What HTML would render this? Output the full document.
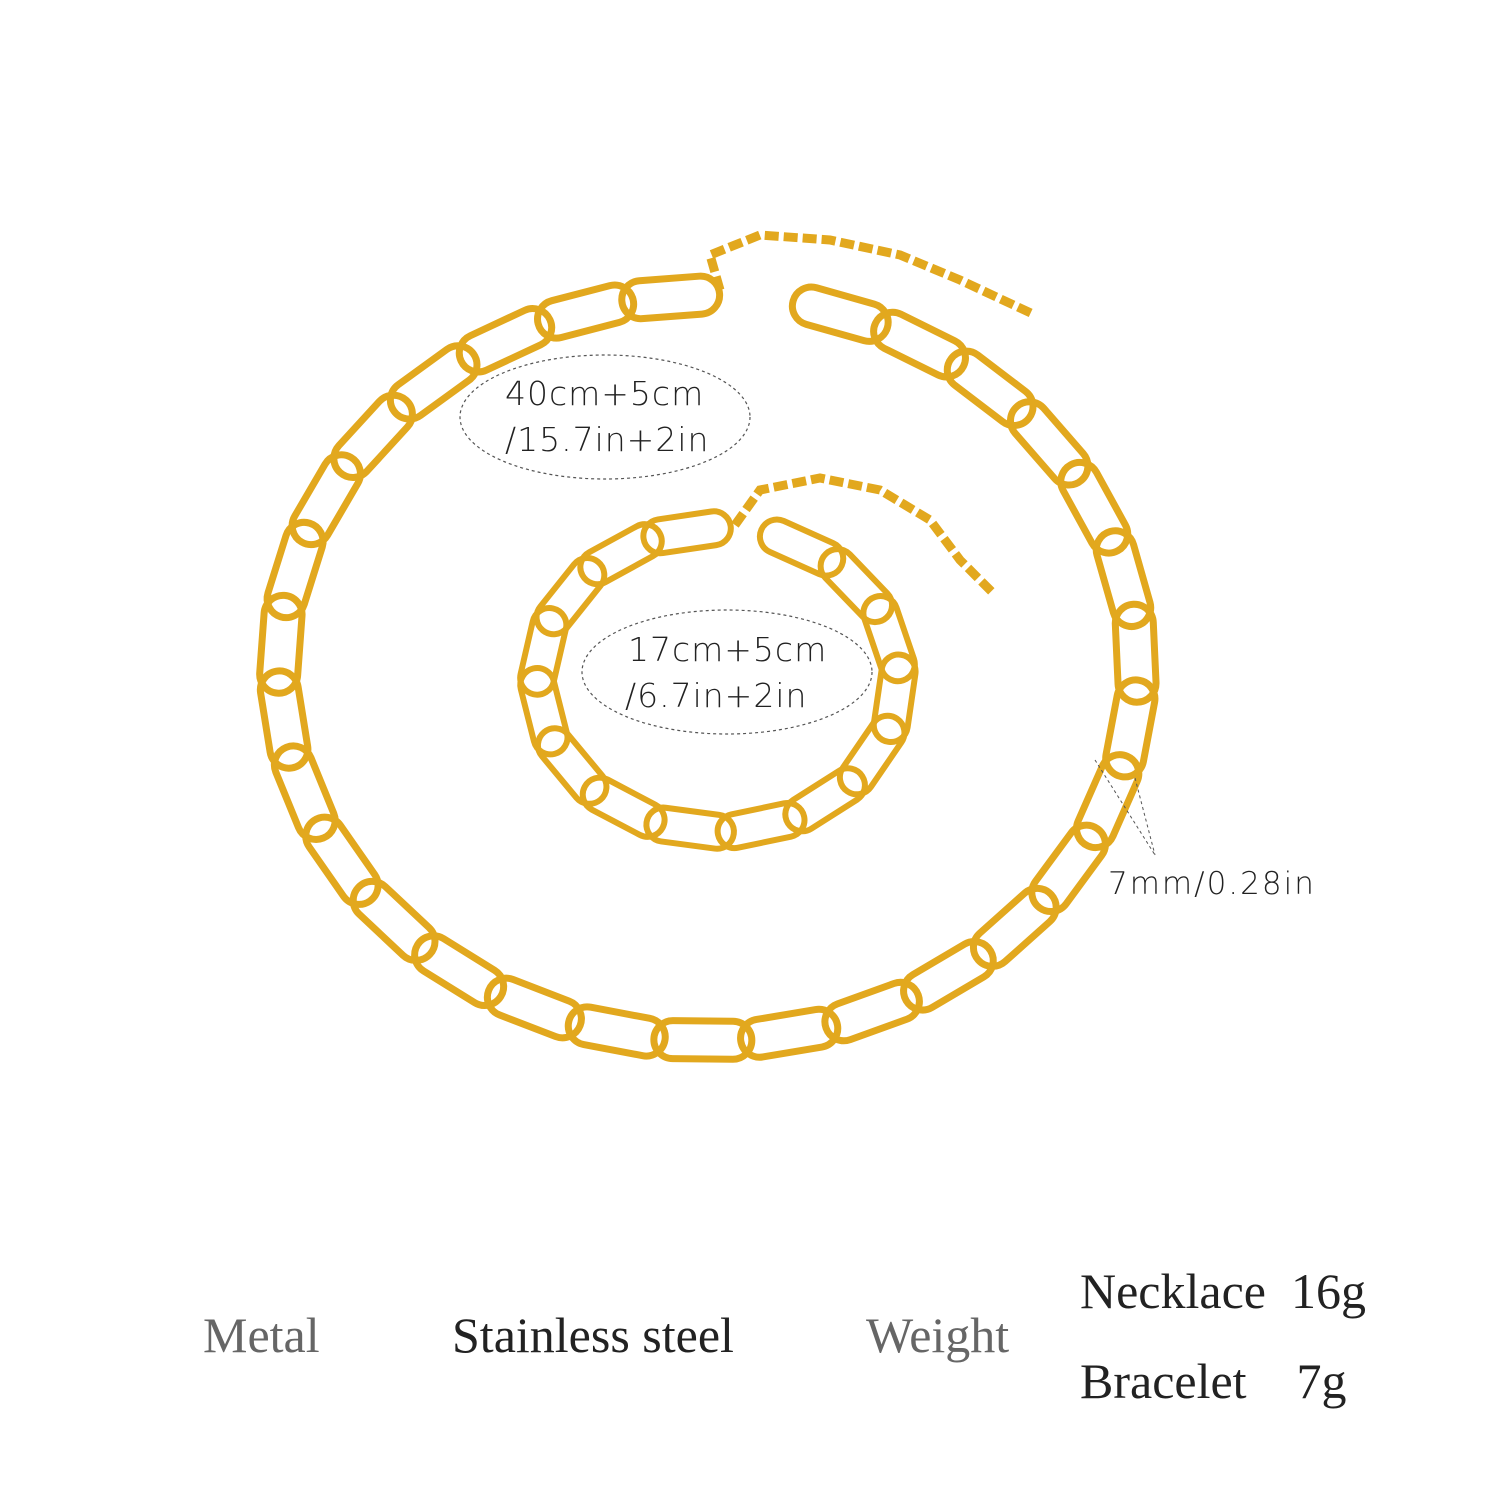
<!DOCTYPE html>
<html><head><meta charset="utf-8"><style>
html,body{margin:0;padding:0;background:#fff;}
#w{position:relative;width:1500px;height:1500px;overflow:hidden;}
.t{position:absolute;white-space:nowrap;}
.sans{font-family:"DejaVu Sans","Liberation Sans",sans-serif;color:#222;font-size:33px;letter-spacing:1px;font-weight:300}
.serif{font-family:"Liberation Serif",serif;font-size:50px;}
</style></head><body><div id="w">
<svg id="s" width="1500" height="1500" style="position:absolute;left:0;top:0">
<g id="links"></g>
<ellipse cx="605" cy="417" rx="145" ry="62" fill="none" stroke="#555" stroke-width="1.2" stroke-dasharray="3,3"/>
<ellipse cx="727" cy="672" rx="145" ry="62" fill="none" stroke="#555" stroke-width="1.2" stroke-dasharray="3,3"/>
<line x1="1095" y1="760" x2="1155" y2="855" stroke="#555" stroke-width="1" stroke-dasharray="3,3"/>
<line x1="1135" y1="778" x2="1155" y2="855" stroke="#555" stroke-width="1" stroke-dasharray="3,3"/>
</svg>
<div class="t sans" style="left:505px;top:374px">40cm+5cm</div>
<div class="t sans" style="left:505px;top:420px">/15.7in+2in</div>
<div class="t sans" style="left:628px;top:630px">17cm+5cm</div>
<div class="t sans" style="left:625px;top:676px">/6.7in+2in</div>
<div class="t sans" style="left:1108px;top:866px;font-size:31px;letter-spacing:2px">7mm/0.28in</div>
<div class="t serif" style="left:203px;top:1306px;color:#666">Metal</div>
<div class="t serif" style="left:452px;top:1306px;color:#222">Stainless steel</div>
<div class="t serif" style="left:866px;top:1306px;color:#666">Weight</div>
<div class="t serif" style="left:1080px;top:1262px;color:#222">Necklace&nbsp;&nbsp;16g</div>
<div class="t serif" style="left:1080px;top:1352px;color:#222">Bracelet&nbsp;&nbsp;&nbsp;&nbsp;7g</div>
</div>
<script>
var g=document.getElementById('links'),NS='http://www.w3.org/2000/svg';
function link(x,y,a,L,H,sw){var r=document.createElementNS(NS,'rect');
r.setAttribute('x',-L/2);r.setAttribute('y',-H/2);r.setAttribute('width',L);r.setAttribute('height',H);
r.setAttribute('rx',H/2);r.setAttribute('fill','none');r.setAttribute('stroke','#e2a81e');r.setAttribute('stroke-width',sw);
r.setAttribute('transform','translate('+x+','+y+') rotate('+a+')');g.appendChild(r);}
function chain(cx,cy,rx,ry,n,g0,g1,L,H,sw){for(var i=0;i<n;i++){var t=g1+(360-(g1-g0))*i/(n-1);t=t*Math.PI/180;
var x=cx+rx*Math.cos(t),y=cy+ry*Math.sin(t);var dx=-rx*Math.sin(t),dy=ry*Math.cos(t);
link(x,y,Math.atan2(dy,dx)*180/Math.PI,L,H,sw);}}
chain(708,668,428,372,30,-95,-72,98,38,7);
chain(718,680,178,150,15,-100,-62,88,34,6);
function ext(pts){var p=document.createElementNS(NS,'polyline');p.setAttribute('points',pts);p.setAttribute('fill','none');
p.setAttribute('stroke','#e2a81e');p.setAttribute('stroke-width',9);p.setAttribute('stroke-dasharray','14,5');g.appendChild(p);}
ext('720,290 710,255 760,235 830,240 900,255 960,280 1035,315');
ext('735,525 760,490 820,478 880,490 930,520 960,560 992,592');
</script>
</body></html>
